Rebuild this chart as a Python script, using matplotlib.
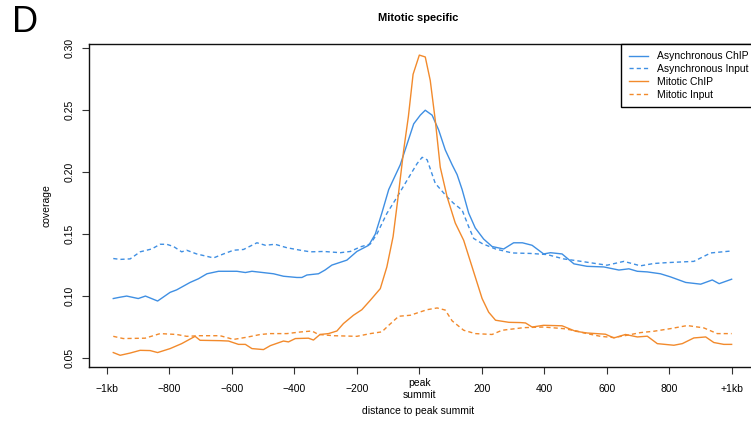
import matplotlib
matplotlib.use("Agg")
import matplotlib.pyplot as plt

plt.rcParams['font.family'] = ['Liberation Sans', 'DejaVu Sans']

BLUE = '#3F8FE3'
ORANGE = '#F28A2C'

# ---- data (distance to peak summit, coverage) ----
async_chip_x = [-980,-960,-937,-900,-877,-838,-798,-777,-734,-707,-680,-643,-584,-557,-536,-467,-435,-392,-376,-360,
                -323,-302,-280,-232,-200,-162,-141,-120,-98,-61,-18,3,19,41,62,83,105,121,137,158,
                179,206,233,270,302,330,361,398,420,457,495,537,591,639,671,698,730,772,804,853,901,938,960,1000]
async_chip_y = [0.098,0.099,0.100,0.098,0.100,0.096,0.103,0.105,0.111,0.114,0.118,0.120,0.120,0.119,0.120,0.118,0.116,0.115,0.115,0.117,
                0.118,0.121,0.125,0.129,0.136,0.141,0.150,0.167,0.186,0.206,0.239,0.246,0.250,0.246,0.234,0.218,0.206,0.198,0.186,0.167,
                0.155,0.146,0.140,0.138,0.143,0.143,0.141,0.134,0.135,0.134,0.126,0.124,0.1235,0.121,0.122,0.120,0.1195,0.118,0.1155,0.111,
                0.1096,0.113,0.110,0.1136]

async_input_x = [-980,-958,-926,-894,-857,-830,-809,-787,-761,-745,-713,-659,-627,-595,-563,-520,-493,-462,-424,-381,
                 -349,-306,-253,-221,-189,-157,-136,-104,-71,-39,-7,9,25,51,89,110,137,158,174,201,
                 244,297,356,409,462,505,601,655,708,751,794,879,933,1000]
async_input_y = [0.1303,0.1296,0.130,0.1357,0.138,0.1418,0.1418,0.140,0.1357,0.137,0.134,0.1308,0.134,0.137,0.1376,0.143,0.141,0.1418,0.139,0.137,
                 0.1357,0.136,0.135,0.136,0.1397,0.142,0.150,0.1667,0.180,0.1936,0.207,0.212,0.210,0.191,0.180,0.1748,0.1694,0.156,0.1465,0.1424,
                 0.138,0.1348,0.1344,0.1335,0.130,0.1285,0.1249,0.128,0.1244,0.1263,0.127,0.128,0.1348,0.1364]

mitotic_chip_x = [-980,-958,-926,-894,-862,-838,-798,-761,-718,-702,-638,-611,-579,-557,-536,-499,-477,-435,-419,-397,
                  -355,-339,-318,-291,-264,-243,-211,-184,-157,-125,-104,-84,-68,-50,-35,-20,0,19,35,51,
                  67,89,115,142,169,201,222,244,287,324,340,361,398,457,500,537,596,623,660,698,
                  730,762,815,842,879,917,943,975,1000]
mitotic_chip_y = [0.0544,0.0522,0.054,0.0562,0.056,0.0544,0.0576,0.0616,0.0675,0.0643,0.064,0.0637,0.061,0.061,0.0576,0.0568,0.060,0.0637,0.063,0.0657,
                  0.066,0.0645,0.069,0.0697,0.0718,0.0778,0.0845,0.089,0.0966,0.106,0.1235,0.148,0.180,0.218,0.245,0.279,0.2945,0.293,0.274,0.242,
                  0.204,0.180,0.159,0.145,0.1235,0.098,0.087,0.0805,0.0788,0.0786,0.0783,0.075,0.0764,0.076,0.0716,0.0702,0.0692,0.0662,0.069,0.067,
                  0.0676,0.0616,0.0603,0.0616,0.0662,0.067,0.0625,0.061,0.061]

mitotic_input_x = [-980,-948,-878,-830,-777,-745,-702,-638,-595,-552,-509,-477,-424,-381,-344,-323,-274,-200,-157,-120,
                   -98,-66,-29,3,25,57,83,105,142,179,233,265,308,334,398,462,505,527,580,623,
                   666,708,751,804,858,911,954,1000]
mitotic_input_y = [0.0675,0.0657,0.066,0.0697,0.069,0.0675,0.068,0.068,0.065,0.0668,0.069,0.0697,0.0697,0.071,0.0718,0.069,0.068,0.0675,0.0697,0.0711,
                   0.0764,0.0837,0.0845,0.0872,0.089,0.0904,0.0887,0.080,0.0724,0.0697,0.069,0.0724,0.0737,0.0745,0.075,0.0737,0.0718,0.0702,0.0675,0.0665,
                   0.0684,0.0705,0.0716,0.0737,0.0762,0.0743,0.0697,0.0697]

series_labels = ['Asynchronous ChIP', 'Asynchronous Input', 'Mitotic ChIP', 'Mitotic Input']

x_ticks = [-1000, -800, -600, -400, -200, 0, 200, 400, 600, 800, 1000]
x_tick_labels = ['\u22121kb', '\u2212800', '\u2212600', '\u2212400', '\u2212200', 'peak\nsummit',
                 '200', '400', '600', '800', '+1kb']
y_ticks = [0.05, 0.10, 0.15, 0.20, 0.25, 0.30]

# ---- figure ----
W, H = 751, 422
fig = plt.figure(figsize=(W / 100, H / 100), dpi=100)
ax = fig.add_axes([88.6 / W, 1 - 367.3 / H, (756.3 - 88.6) / W, (367.3 - 43.7) / H])

lw = 1.0
dash = (3.0, 2.2)
ax.plot(async_chip_x, async_chip_y, color=BLUE, lw=lw, label=series_labels[0])
ax.plot(async_input_x, async_input_y, color=BLUE, lw=lw, dashes=dash, label=series_labels[1])
ax.plot(mitotic_chip_x, mitotic_chip_y, color=ORANGE, lw=lw, label=series_labels[2])
ax.plot(mitotic_input_x, mitotic_input_y, color=ORANGE, lw=lw, dashes=dash, label=series_labels[3])

ax.set_xlim(-1059, 1079)
ax.set_ylim(0.0425, 0.3037)

ax.set_xticks(x_ticks)
ax.set_xticklabels(x_tick_labels, fontsize=7.5, linespacing=1.3)
for lab in ax.get_xticklabels():
    lab.set_va('center')
ax.tick_params(axis='x', length=5, width=0.8, pad=10.5, color='#333333')

ax.set_yticks(y_ticks)
ax.set_yticklabels(['%.2f' % v for v in y_ticks], fontsize=7.5, rotation=90, va='center')
ax.tick_params(axis='y', length=5, width=0.8, pad=5, color='#333333')

for s in ax.spines.values():
    s.set_linewidth(1.0)
    s.set_color('#111111')

leg = ax.legend(loc='upper right', bbox_to_anchor=(1.0, 1.0), borderaxespad=0,
                fancybox=False, edgecolor='black', fontsize=7.5, handlelength=1.85,
                handletextpad=0.9, borderpad=0.72, labelspacing=0.27, framealpha=1)
leg.get_frame().set_linewidth(1.0)

fig.text(418 / W, 1 - 18 / H, 'Mitotic specific', ha='center', va='center',
         fontsize=8, fontweight='bold')
fig.text(46 / W, 1 - 205.5 / H, 'coverage', ha='center', va='center', rotation=90, fontsize=7.5)
fig.text(418 / W, 1 - 411 / H, 'distance to peak summit', ha='center', va='center', fontsize=7.5)
fig.text(25 / W, 1 - 22 / H, 'D', ha='center', va='center', fontsize=26)

fig.savefig('out.png', dpi=100)
